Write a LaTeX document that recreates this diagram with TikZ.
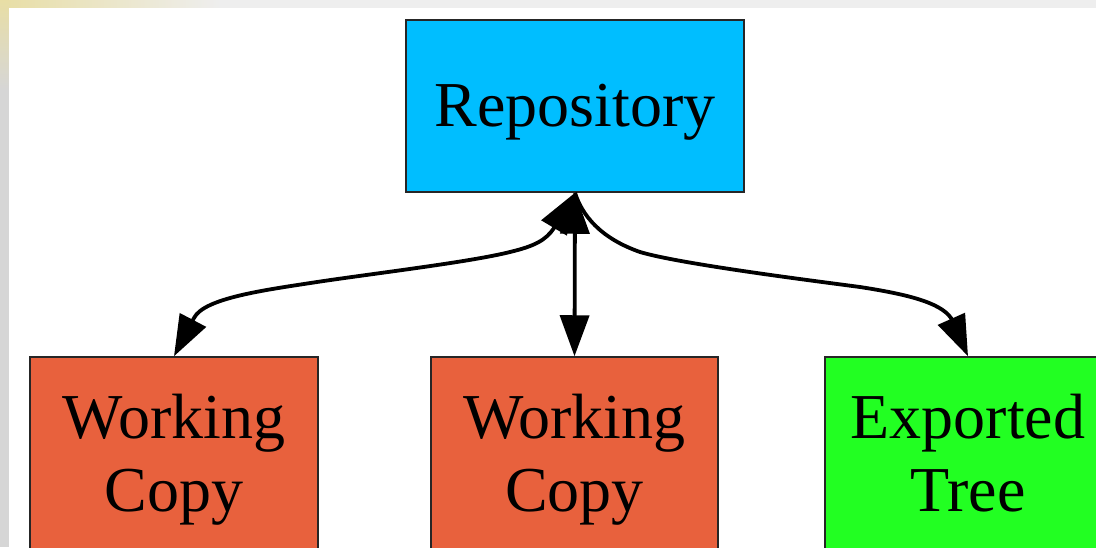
\documentclass[tikz,border=0pt]{standalone}
\usepackage{fontspec}
\setmainfont{Liberation Serif}
\usetikzlibrary{arrows.meta}

\definecolor{repoblue}{RGB}{0,190,255}
\definecolor{wcred}{RGB}{232,97,61}
\definecolor{expgreen}{RGB}{34,255,34}
\definecolor{slidegray}{RGB}{214,214,214}
\definecolor{slidetop}{RGB}{238,238,238}
\definecolor{slidebeige}{RGB}{232,222,165}

\tikzset{
  box/.style={draw=black!85, line width=1.5pt, inner sep=0pt,
              align=center, font=\fontsize{64}{73}\selectfont},
  link/.style={line width=3.8pt,
               arrows={-Triangle[length=41pt,width=29pt]}},
  twoway/.style={line width=3.8pt,
               arrows={Triangle[length=41pt,width=29pt]-Triangle[length=41pt,width=29pt]}}
}

\begin{document}
\begin{tikzpicture}[x=1pt,y=-1pt]
  \useasboundingbox (0,0) rectangle (1096,547);

  % slide frame behind the white panel
  \fill[slidegray] (0,0) rectangle (1096,547);
  \fill[slidetop] (0,0) rectangle (1096,8);
  \shade[left color=slidebeige, right color=slidetop] (0,0) rectangle (220,8);
  \shade[top color=slidebeige, bottom color=slidegray] (0,0) rectangle (9,90);
  \fill[white] (9,8) rectangle (1096,547);

  % nodes
  \node[box, fill=repoblue, minimum width=338pt, minimum height=172pt,
        text height=46pt, text depth=6pt] (repo) at (575,106) {Repository};
  \node[box, fill=wcred, minimum width=288pt, minimum height=206pt]
        (wcleft) at (174,460) {Working\\Copy};
  \node[box, fill=wcred, minimum width=287pt, minimum height=206pt]
        (wcmid) at (574.5,460) {Working\\Copy};
  \node[box, fill=expgreen, minimum width=286pt, minimum height=206pt]
        (export) at (968,460) {Exported\\Tree\vphantom{p}};

  % connectors (straight ends keep the arrow tips from kinking the curves)
  \draw[twoway] (repo.south) -- (554,228)
      .. controls (546,240) and (535,246) .. (510,252)
      .. controls (470,262) and (377,273) .. (317,282)
      .. controls (265,290) and (204,298) .. (194,318)
      -- (wcleft.north);
  \draw[twoway] (repo.south) -- (wcmid.north);
  \draw[link] (repo.south)
      .. controls (582,215) and (600,238) .. (640,252)
      .. controls (680,264) and (815,281) .. (860,287)
      .. controls (905,294) and (940,302) .. (951,318)
      -- (export.north);
\end{tikzpicture}
\end{document}
